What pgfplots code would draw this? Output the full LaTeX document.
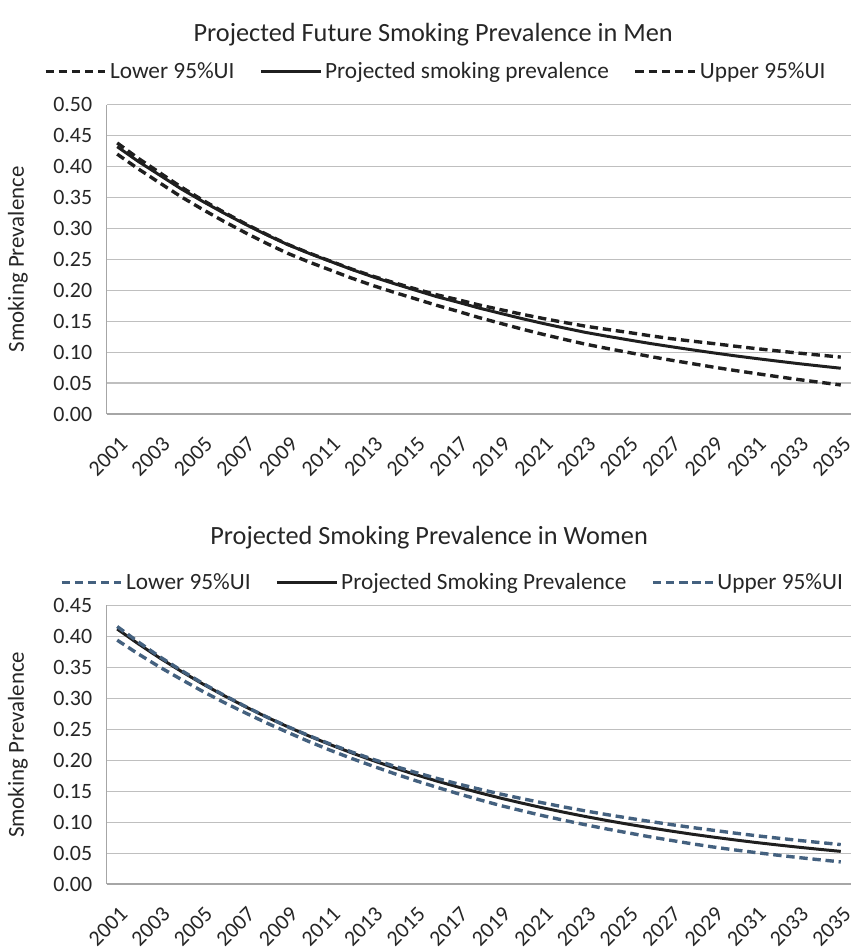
\documentclass[border=0pt]{standalone}
\usepackage{pgfplots}
\pgfplotsset{compat=1.18}
\usepackage{pgfplotstable}
\usepackage{fontspec}
\setmainfont{Carlito}

\definecolor{gridgray}{HTML}{BFBFBF}
\definecolor{axisgray}{HTML}{A6A6A6}
\definecolor{txt}{HTML}{262626}
\definecolor{lineblack}{HTML}{1F1F1F}
\definecolor{steel}{HTML}{44617F}

% year  lower  projected  upper
\pgfplotstableread{
year lo mid up
2001 0.420 0.432 0.438
2002 0.396 0.408 0.413
2003 0.3735 0.386 0.390
2004 0.3512 0.364 0.367
2005 0.331 0.344 0.346
2006 0.3117 0.325 0.3265
2007 0.2935 0.307 0.308
2008 0.2762 0.290 0.2907
2009 0.260 0.274 0.2745
2010 0.246 0.260 0.2605
2011 0.233 0.247 0.2475
2012 0.220 0.234 0.2347
2013 0.208 0.222 0.223
2014 0.197 0.211 0.2125
2015 0.1865 0.2005 0.2025
2016 0.176 0.190 0.193
2017 0.1663 0.181 0.185
2018 0.1561 0.1715 0.1765
2019 0.1469 0.163 0.169
2020 0.1377 0.1546 0.1616
2021 0.1291 0.1467 0.1547
2022 0.1210 0.1393 0.1483
2023 0.1132 0.1322 0.1422
2024 0.1064 0.1261 0.1371
2025 0.0999 0.1202 0.1322
2026 0.0935 0.1145 0.127
2027 0.0875 0.1092 0.1222
2028 0.0818 0.1041 0.1181
2029 0.0762 0.0992 0.1142
2030 0.0708 0.0945 0.11
2031 0.0658 0.0901 0.1061
2032 0.0609 0.0859 0.1024
2033 0.0561 0.0818 0.0988
2034 0.0517 0.0780 0.0955
2035 0.0473 0.0743 0.0923
}\men

\pgfplotstableread{
year lo mid up
2001 0.394 0.412 0.416
2002 0.3716 0.3879 0.3909
2003 0.3505 0.3652 0.3672
2004 0.3309 0.3439 0.3454
2005 0.3117 0.3237 0.3247
2006 0.2938 0.3048 0.3055
2007 0.277 0.2870 0.2875
2008 0.2607 0.2702 0.2705
2009 0.2454 0.2544 0.2547
2010 0.2305 0.2395 0.24
2011 0.2165 0.2255 0.2265
2012 0.2033 0.2123 0.2138
2013 0.1909 0.1999 0.2019
2014 0.1789 0.1882 0.1909
2015 0.1675 0.1772 0.1807
2016 0.1568 0.1668 0.1711
2017 0.1464 0.1571 0.1621
2018 0.1366 0.1479 0.1537
2019 0.1272 0.1392 0.1457
2020 0.1188 0.1311 0.1384
2021 0.1107 0.1234 0.1314
2022 0.1032 0.1162 0.1247
2023 0.0961 0.1094 0.1184
2024 0.0893 0.1030 0.1125
2025 0.083 0.0970 0.107
2026 0.0768 0.0913 0.1016
2027 0.071 0.0860 0.0965
2028 0.0654 0.0809 0.0917
2029 0.0602 0.0762 0.0872
2030 0.0555 0.0717 0.0827
2031 0.0512 0.0675 0.0785
2032 0.0471 0.0636 0.0746
2033 0.0432 0.0599 0.0709
2034 0.0396 0.0564 0.0674
2035 0.0361 0.0531 0.0641
}\women

\pgfplotsset{
  prevstyle/.style={
    scale only axis,
    width=374pt,
    xmin=2000.5, xmax=2035.5,
    ymin=0,
    xtick={2001,2003,...,2035},
    ytick distance=0.05,
    axis x line=bottom, axis y line=left,
    axis line style={axisgray, line width=0.8pt, -},
    major tick length=0pt,
    ymajorgrids,
    grid style={gridgray, line width=0.8pt},
    /pgf/number format/assume math mode=true,
    /pgf/number format/1000 sep={},
    yticklabel style={/pgf/number format/fixed, /pgf/number format/fixed zerofill, /pgf/number format/precision=2},
    ticklabel style={font=\fontsize{11}{13}\selectfont, text=txt},
    xticklabel style={rotate=45, anchor=north east, inner sep=1pt, yshift=-7pt, xshift=-6pt},
    yticklabel style={inner sep=2pt, xshift=-5pt},
    ylabel={Smoking Prevalence},
    ylabel style={at={(axis description cs:-0.119,0.5)}, anchor=center, font=\fontsize{11.5}{13}\selectfont, text=txt},
    title style={anchor=center, yshift=-6pt, font=\fontsize{13.2}{16}\selectfont, text=txt},
    legend columns=3,
    legend style={draw=none, fill=none, anchor=center, font=\fontsize{11.7}{14}\selectfont, text=txt,
      nodes={inner sep=1.5pt},
      /tikz/every even column/.append style={column sep=11pt}, inner sep=0pt},
    legend image code/.code={\draw[#1] (0pt,0pt) -- (30pt,0pt);},
    clip=false,
  },
  dash/.style={line width=1.7pt, dash pattern=on 4.2pt off 2.4pt},
  solidl/.style={line width=1.5pt, lineblack},
}

\begin{document}
\begin{tikzpicture}
\useasboundingbox (-53.5pt,52.5pt) rectangle (374.5pt,-425pt);
\begin{axis}[prevstyle,
  at={(0,0)}, anchor=north west,
  height=155.5pt, ymax=0.5,
  title={Projected Future Smoking Prevalence in Men},
  title style={at={(axis description cs:0.4385,1.225)}},
  legend style={at={(axis description cs:0.4425,1.106)}},
]
\addplot[dash, lineblack] table[x=year, y=lo] {\men};
\addlegendentry{Lower 95\%UI}
\addplot[solidl] table[x=year, y=mid] {\men};
\addlegendentry{Projected smoking prevalence}
\addplot[dash, lineblack] table[x=year, y=up] {\men};
\addlegendentry{Upper 95\%UI}
\end{axis}

\begin{axis}[prevstyle,
  at={(0,-251.5pt)}, anchor=north west,
  height=140pt, ymax=0.45,
  title={Projected Smoking Prevalence in Women},
  title style={at={(axis description cs:0.433,1.243)}},
  legend style={at={(axis description cs:0.465,1.082)}},
]
\addplot[dash, steel] table[x=year, y=lo] {\women};
\addlegendentry{Lower 95\%UI}
\addplot[solidl] table[x=year, y=mid] {\women};
\addlegendentry{Projected Smoking Prevalence}
\addplot[dash, steel] table[x=year, y=up] {\women};
\addlegendentry{Upper 95\%UI}
\end{axis}
\end{tikzpicture}
\end{document}
